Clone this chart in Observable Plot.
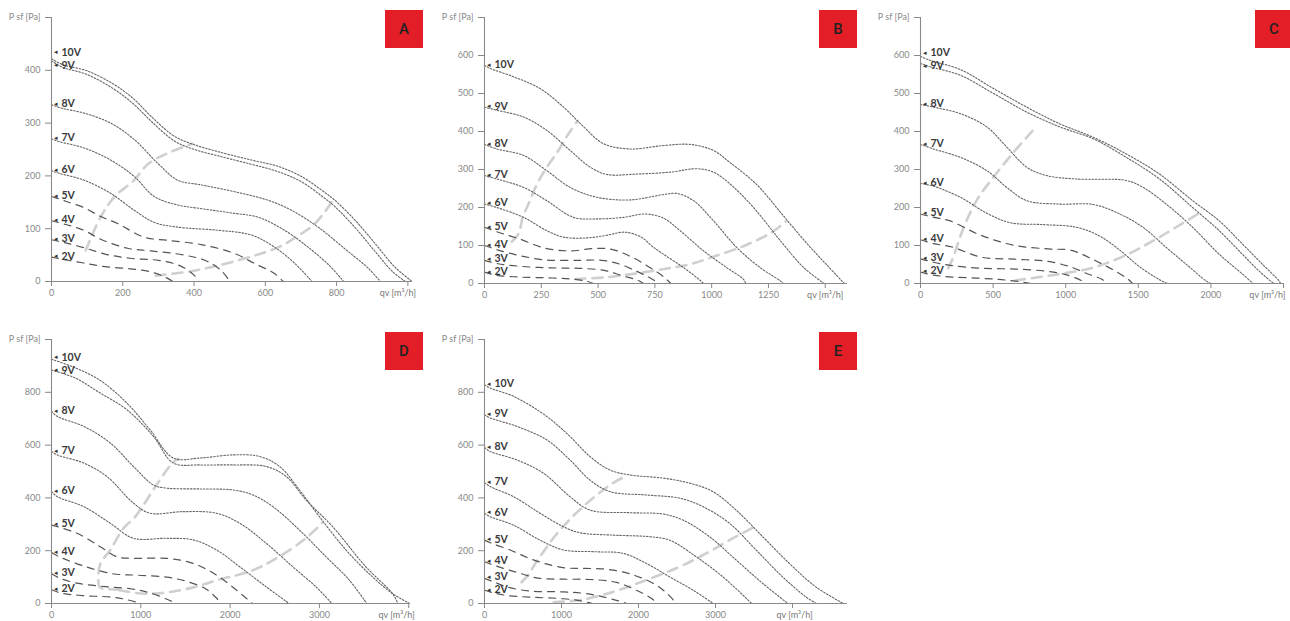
<!DOCTYPE html>
<html>
<head>
<meta charset="utf-8">
<script src="https://cdn.jsdelivr.net/npm/d3@7"></script>
<script src="https://cdn.jsdelivr.net/npm/@observablehq/plot@0.6"></script>
<style>
  html, body { margin: 0; padding: 0; background: #fff; }
  #page { position: relative; width: 1290px; height: 621px; overflow: hidden; background: #fff; }
  .panel { position: absolute; }
  .badge { position: absolute; width: 38px; height: 38px; background: #e41e26; color: #222;
           font: 500 15px Roboto, "Open Sans", sans-serif; display: flex; align-items: center; justify-content: center; }
</style>
</head>
<body>
<div id="page"></div>
<script>
// ---------- Panel A ----------
const a10V = [[0,422],[30,411],[100,399],[176,373],[232,345],[279,313],[345,275],[401,259],[467,246],[561,230],[636,218],[701,199],[758,173],[795,154],[852,116],[908,72],[964,27],[1012,0]];
const a9V  = [[0,418],[30,406],[100,392],[176,364],[232,335],[279,304],[345,266],[401,250],[467,238],[561,222],[636,208],[701,189],[758,162],[795,142],[852,102],[908,57],[958,18],[993,0]];
const a8V  = [[0,335],[30,328],[91,319],[166,300],[232,269],[298,224],[354,192],[420,183],[514,170],[607,154],[673,135],[748,103],[823,62],[889,25],[923,0]];
const a7V  = [[0,270],[21,265],[91,253],[166,230],[232,199],[288,161],[354,145],[420,138],[514,129],[579,122],[654,97],[720,65],[777,32],[820,0]];
const a6V  = [[0,210],[21,205],[91,192],[166,167],[232,135],[288,112],[354,103],[467,97],[561,88],[626,65],[683,34],[731,0]];
const a5V  = [[0,161],[40,152],[91,140],[138,123],[185,110],[260,84],[326,78],[420,70],[514,53],[570,34],[626,15],[650,0]];
const a4V  = [[0,115],[40,108],[91,97],[138,80],[213,63],[279,58],[373,50],[438,38],[480,18],[500,0]];
const a3V  = [[0,79],[40,73],[91,64],[150,52],[220,44],[300,40],[360,30],[400,12],[413,0]];
const a2V  = [[0,46],[40,41],[91,35],[150,28],[220,24],[280,18],[320,8],[340,0]];
const grayA1 = [[96,59],[138,122],[176,160],[232,192],[270,222],[326,243],[395,261]];
const grayA2 = [[292,11],[404,21],[544,44],[637,65],[693,87],[732,105],[765,130],[790,155]];
const xTicksA = [0,200,400,600,800,1000];
const yTicksA = [0,100,200,300,400,500];

// ---------- Panel B ----------
const b10V = [[0,574],[25,566],[128,544],[245,513],[348,464],[437,412],[524,368],[641,354],[788,363],[906,366],[1008,350],[1081,318],[1199,260],[1302,188],[1405,115],[1508,48],[1584,0]];
const b9V  = [[0,464],[54,456],[172,438],[274,403],[377,350],[466,306],[538,287],[670,288],[817,293],[935,302],[1008,293],[1081,262],[1184,200],[1302,113],[1405,42],[1495,0]];
const b8V  = [[0,366],[54,354],[172,337],[274,297],[377,253],[494,227],[641,220],[788,234],[847,237],[920,218],[1008,165],[1110,95],[1213,42],[1302,7],[1315,0]];
const b7V  = [[0,284],[54,275],[172,253],[274,218],[392,174],[494,170],[612,174],[707,183],[788,172],[861,139],[964,86],[1066,42],[1140,11],[1150,0]];
const b6V  = [[0,209],[54,200],[172,174],[274,139],[348,122],[450,120],[530,126],[619,135],[690,122],[740,97],[788,77],[876,42],[950,8],[965,0]];
const b5V  = [[0,148],[60,135],[150,118],[267,93],[380,86],[480,92],[560,90],[640,72],[720,45],[790,17],[820,0]];
const b4V  = [[0,100],[60,88],[150,74],[267,62],[414,61],[517,61],[590,52],[663,34],[722,17],[770,0]];
const b3V  = [[0,61],[60,52],[163,45],[295,41],[414,40],[531,34],[603,21],[676,8],[700,0]];
const b2V  = [[0,30],[50,22],[150,17],[270,15],[380,12],[450,6],[480,0]];
const grayB1 = [[120,110],[150,131],[168,174],[194,210],[230,260],[265,297],[325,350],[370,394],[410,428]];
const grayB2 = [[400,12],[530,16],[650,25],[790,38],[900,50],[1000,69],[1147,100],[1265,135],[1330,165]];
const xTicksB = [0,250,500,750,1000,1250,1500];
const yTicksB = [0,100,200,300,400,500,600,700];

// ---------- Panel C ----------
const c10V = [[0,598],[60,588],[274,563],[503,513],[732,464],[960,420],[1189,385],[1417,341],[1646,288],[1874,218],[2057,165],[2217,104],[2354,51],[2469,7],[2480,0]];
const c9V  = [[0,579],[60,571],[274,548],[503,500],[732,451],[960,412],[1189,381],[1417,332],[1646,275],[1874,200],[2057,139],[2217,77],[2331,33],[2423,3],[2435,0]];
const c8V  = [[0,471],[91,464],[274,447],[457,412],[594,359],[732,306],[869,284],[1074,275],[1417,271],[1532,253],[1692,209],[1874,148],[2057,77],[2217,25],[2290,0]];
const c7V  = [[0,366],[91,354],[274,332],[457,297],[594,253],[732,218],[960,209],[1189,208],[1372,183],[1532,148],[1692,95],[1829,51],[1966,7],[2000,0]];
const c6V  = [[0,263],[91,256],[274,227],[457,185],[617,160],[846,155],[1074,148],[1234,125],[1372,88],[1509,44],[1646,10],[1700,0]];
const c5V  = [[0,183],[80,175],[194,166],[422,126],[651,100],[879,91],[1039,87],[1199,61],[1336,34],[1427,12],[1460,0]];
const c4V  = [[0,115],[90,105],[217,96],[422,69],[651,64],[879,58],[1039,43],[1153,25],[1245,12],[1290,0]];
const c3V  = [[0,65],[90,56],[217,47],[422,40],[651,38],[879,32],[993,24],[1107,8],[1130,0]];
const c2V  = [[0,30],[90,22],[217,17],[400,14],[560,10],[700,4],[760,0]];
const grayC1 = [[190,40],[217,61],[300,150],[389,220],[503,280],[640,345],[790,410]];
const grayC2 = [[650,8],[960,25],[1189,42],[1417,75],[1600,112],[1760,148],[1930,188]];
const xTicksC = [0,500,1000,1500,2000,2500];
const yTicksC = [0,100,200,300,400,500,600,700];

// ---------- Panel D ----------
const d10V = [[0,925],[250,895],[546,845],[844,759],[1104,658],[1364,551],[1662,551],[2033,563],[2331,557],[2554,519],[2777,430],[3000,329],[3297,203],[3594,101],[3817,38],[4010,0]];
const d9V  = [[0,884],[260,855],[546,797],[844,734],[1141,633],[1364,532],[1662,525],[2033,525],[2405,519],[2628,481],[2851,392],[3148,291],[3520,139],[3817,38],[3880,0]];
const d8V  = [[0,728],[63,709],[361,671],[658,608],[918,519],[1141,449],[1290,437],[1662,434],[2033,430],[2256,411],[2479,367],[2777,278],[3074,177],[3334,89],[3530,0]];
const d7V  = [[0,576],[63,563],[361,532],[621,481],[918,380],[1104,342],[1476,348],[1847,342],[2108,304],[2405,228],[2702,139],[2962,63],[3140,0]];
const d6V  = [[0,424],[63,405],[361,367],[658,304],[918,247],[1290,247],[1587,241],[1847,203],[2108,139],[2405,63],[2660,0]];
const d5V  = [[0,297],[286,266],[546,215],[732,177],[918,171],[1290,171],[1587,152],[1847,108],[2070,51],[2250,0]];
const d4V  = [[0,193],[100,175],[344,144],[680,113],[979,107],[1290,100],[1500,85],[1724,56],[1850,20],[1900,0]];
const d3V  = [[0,113],[100,95],[300,76],[600,64],[900,55],[1104,40],[1300,15],[1400,0]];
const d2V  = [[0,52],[100,40],[344,30],[680,24],[850,14],[1000,0]];
const grayD1 = [[760,52],[620,55],[540,62],[525,100],[546,150],[658,203],[806,285],[941,330],[1164,443],[1351,531],[1420,548]];
const grayD2 = [[760,50],[1000,38],[1240,40],[1600,62],[1850,88],[2247,125],[2543,176],[2844,246],[3030,305]];
const xTicksD = [0,1000,2000,3000,4000];
const yTicksD = [0,200,400,600,800,1000];

// ---------- Panel E ----------
const e10V = [[0,829],[73,816],[375,785],[807,709],[1109,633],[1368,557],[1627,506],[1886,487],[2318,475],[2663,456],[2965,424],[3267,354],[3613,253],[3958,152],[4303,63],[4660,0]];
const e9V  = [[0,715],[73,703],[419,671],[807,620],[1109,544],[1368,468],[1627,424],[2102,411],[2534,399],[2836,367],[3181,304],[3526,203],[3871,101],[4174,25],[4310,0]];
const e8V  = [[0,591],[73,576],[419,544],[764,494],[1109,405],[1368,354],[1886,344],[2318,339],[2577,316],[2922,253],[3267,165],[3613,76],[3940,0]];
const e7V  = [[0,458],[73,443],[375,405],[721,342],[1023,291],[1239,268],[1670,259],[2145,253],[2404,240],[2749,177],[3095,101],[3470,0]];
const e6V  = [[0,342],[73,329],[375,297],[721,240],[1023,203],[1454,196],[1800,190],[2102,152],[2404,101],[2706,51],[2970,0]];
const e5V  = [[0,240],[120,225],[355,200],[591,170],[800,150],[1048,135],[1300,133],[1584,130],[1913,110],[2216,72],[2400,30],[2490,0]];
const e4V  = [[0,158],[120,145],[398,120],[701,96],[1023,92],[1368,91],[1713,80],[1972,50],[2188,15],[2230,0]];
const e3V  = [[0,95],[120,82],[300,62],[591,47],[1023,44],[1300,38],[1500,28],[1713,12],[1850,0]];
const e2V  = [[0,50],[120,40],[300,30],[591,24],[1023,18],[1250,10],[1400,0]];
const grayE1 = [[480,80],[571,110],[678,160],[788,205],[900,250],[1048,300],[1200,345],[1351,385],[1541,430],[1700,462],[1860,485]];
const grayE2 = [[900,5],[1239,13],[1670,44],[2102,89],[2534,139],[2879,190],[3181,240],[3500,290]];
const xTicksE = [0,1000,2000,3000,4000];
const yTicksE = [0,200,400,600,800,1000];

const voltages = ["10V","9V","8V","7V","6V","5V","4V","3V","2V"];
const yAxisTitle = "P sf [Pa]";
const xAxisTitle = "qv [m³/h]";

const panels = [
  {id:"A", left:0,   top:0,   w:430, h:310, m:[17,18,29,51], xMax:1013, xTicks:xTicksA, yTicks:yTicksA,
   curves:[a10V,a9V,a8V,a7V,a6V,a5V,a4V,a3V,a2V], gray:[grayA1,grayA2], qvDx:-10, badge:[385,10]},
  {id:"B", left:430, top:0,   w:430, h:310, m:[17,13,27,54], xMax:1598, xTicks:xTicksB, yTicks:yTicksB,
   curves:[b10V,b9V,b8V,b7V,b6V,b5V,b4V,b3V,b2V], gray:[grayB1,grayB2], qvDx:0, badge:[389,10]},
  {id:"C", left:860, top:0,   w:430, h:310, m:[17,7,27,60], xMax:2500, xTicks:xTicksC, yTicks:yTicksC,
   curves:[c10V,c9V,c8V,c7V,c6V,c5V,c4V,c3V,c2V], gray:[grayC1,grayC2], qvDx:-16, badge:[395,10]},
  {id:"D", left:0,   top:310, w:430, h:311, m:[29,20,18,51], xMax:4020, xTicks:xTicksD, yTicks:yTicksD,
   curves:[d10V,d9V,d8V,d7V,d6V,d5V,d4V,d3V,d2V], gray:[grayD1,grayD2], qvDx:-12, badge:[385,22]},
  {id:"E", left:430, top:310, w:430, h:311, m:[29,13,18,54], xMax:4714, xTicks:xTicksE, yTicks:yTicksE,
   curves:[e10V,e9V,e8V,e7V,e6V,e5V,e4V,e3V,e2V], gray:[grayE1,grayE2], qvDx:2, badge:[389,22]}
];

const page = document.getElementById("page");
const MIN_GAP = 13; // px between stacked voltage labels

for (const p of panels) {
  const rows = [];
  p.curves.forEach((pts, i) => {
    const v = voltages[i];
    const dashed = parseInt(v) <= 5;
    for (const [q, ps] of pts) rows.push({v, q, ps, dashed});
  });
  const grayRows = [];
  p.gray.forEach((pts, i) => { for (const [q, ps] of pts) grayRows.push({g: i, q, ps}); });
  const xLast = p.xTicks[p.xTicks.length - 1];
  const yLast = p.yTicks[p.yTicks.length - 1];

  // label anchors at each curve's start; labels (and their arrows) are nudged apart when start points nearly coincide
  const plotH = p.h - p.m[0] - p.m[2];
  const pxPerUnit = plotH / yLast;
  const labels = p.curves.map((pts, i) => ({v: voltages[i], q: 0, ps: pts[0][1], off: 0}));
  for (let i = 0; i < labels.length - 1; i++) {
    const gap = (labels[i].ps - labels[i + 1].ps) * pxPerUnit;
    if (gap < MIN_GAP) {
      const push = (MIN_GAP - gap) / 2;
      labels[i].off -= push;
      labels[i + 1].off += push;
    }
  }
  labels.forEach(d => { d.lps = d.ps - d.off / pxPerUnit; });

  const chart = Plot.plot({
    width: p.w, height: p.h,
    marginTop: p.m[0], marginRight: p.m[1], marginBottom: p.m[2], marginLeft: p.m[3],
    style: {fontFamily: "Lato, 'Open Sans', sans-serif", fontSize: "9px", color: "#888", background: "transparent", overflow: "visible"},
    x: {domain: [0, p.xMax], ticks: p.xTicks, tickSize: 5, tickPadding: 3, label: null,
        tickFormat: d => d === xLast ? "" : String(d)},
    y: {domain: [0, yLast], ticks: p.yTicks, tickSize: 6, tickPadding: 5, label: null,
        tickFormat: d => d === yLast ? yAxisTitle : String(d)},
    marks: [
      Plot.line(grayRows, {x: "q", y: "ps", z: "g", stroke: "#cfcfcf", strokeWidth: 2.6,
        strokeDasharray: "10,7", curve: "catmull-rom"}),
      Plot.line(rows.filter(d => !d.dashed), {x: "q", y: "ps", z: "v", stroke: "#666", strokeWidth: 1.1,
        strokeDasharray: "1.6,1.7", curve: "catmull-rom"}),
      Plot.line(rows.filter(d => d.dashed), {x: "q", y: "ps", z: "v", stroke: "#555", strokeWidth: 1.2,
        strokeDasharray: "7,6", curve: "catmull-rom"}),
      Plot.ruleY([0], {stroke: "#8a8a8a", strokeWidth: 1.1}),
      Plot.ruleX([0], {stroke: "#8a8a8a", strokeWidth: 1.1}),
      Plot.text(labels, {x: "q", y: "lps", text: () => "◂", dx: 4, dy: -1, fontSize: 7, fill: "#333"}),
      Plot.text(labels, {x: "q", y: "lps", text: "v", dx: 10, dy: -1, textAnchor: "start",
        fontSize: 10.5, fontWeight: "bold", fill: "#3a3a3a"}),
      Plot.text([xAxisTitle], {x: () => xLast, y: () => 0, text: d => d, dy: 12, dx: p.qvDx,
        fontSize: 9, fill: "#777"})
    ]
  });

  const wrap = document.createElement("div");
  wrap.className = "panel";
  wrap.style.left = p.left + "px";
  wrap.style.top = p.top + "px";
  wrap.style.width = p.w + "px";
  wrap.style.height = p.h + "px";
  wrap.appendChild(chart);
  const badge = document.createElement("div");
  badge.className = "badge";
  badge.style.left = p.badge[0] + "px";
  badge.style.top = p.badge[1] + "px";
  badge.textContent = p.id;
  wrap.appendChild(badge);
  page.appendChild(wrap);
}
</script>
</body>
</html>
